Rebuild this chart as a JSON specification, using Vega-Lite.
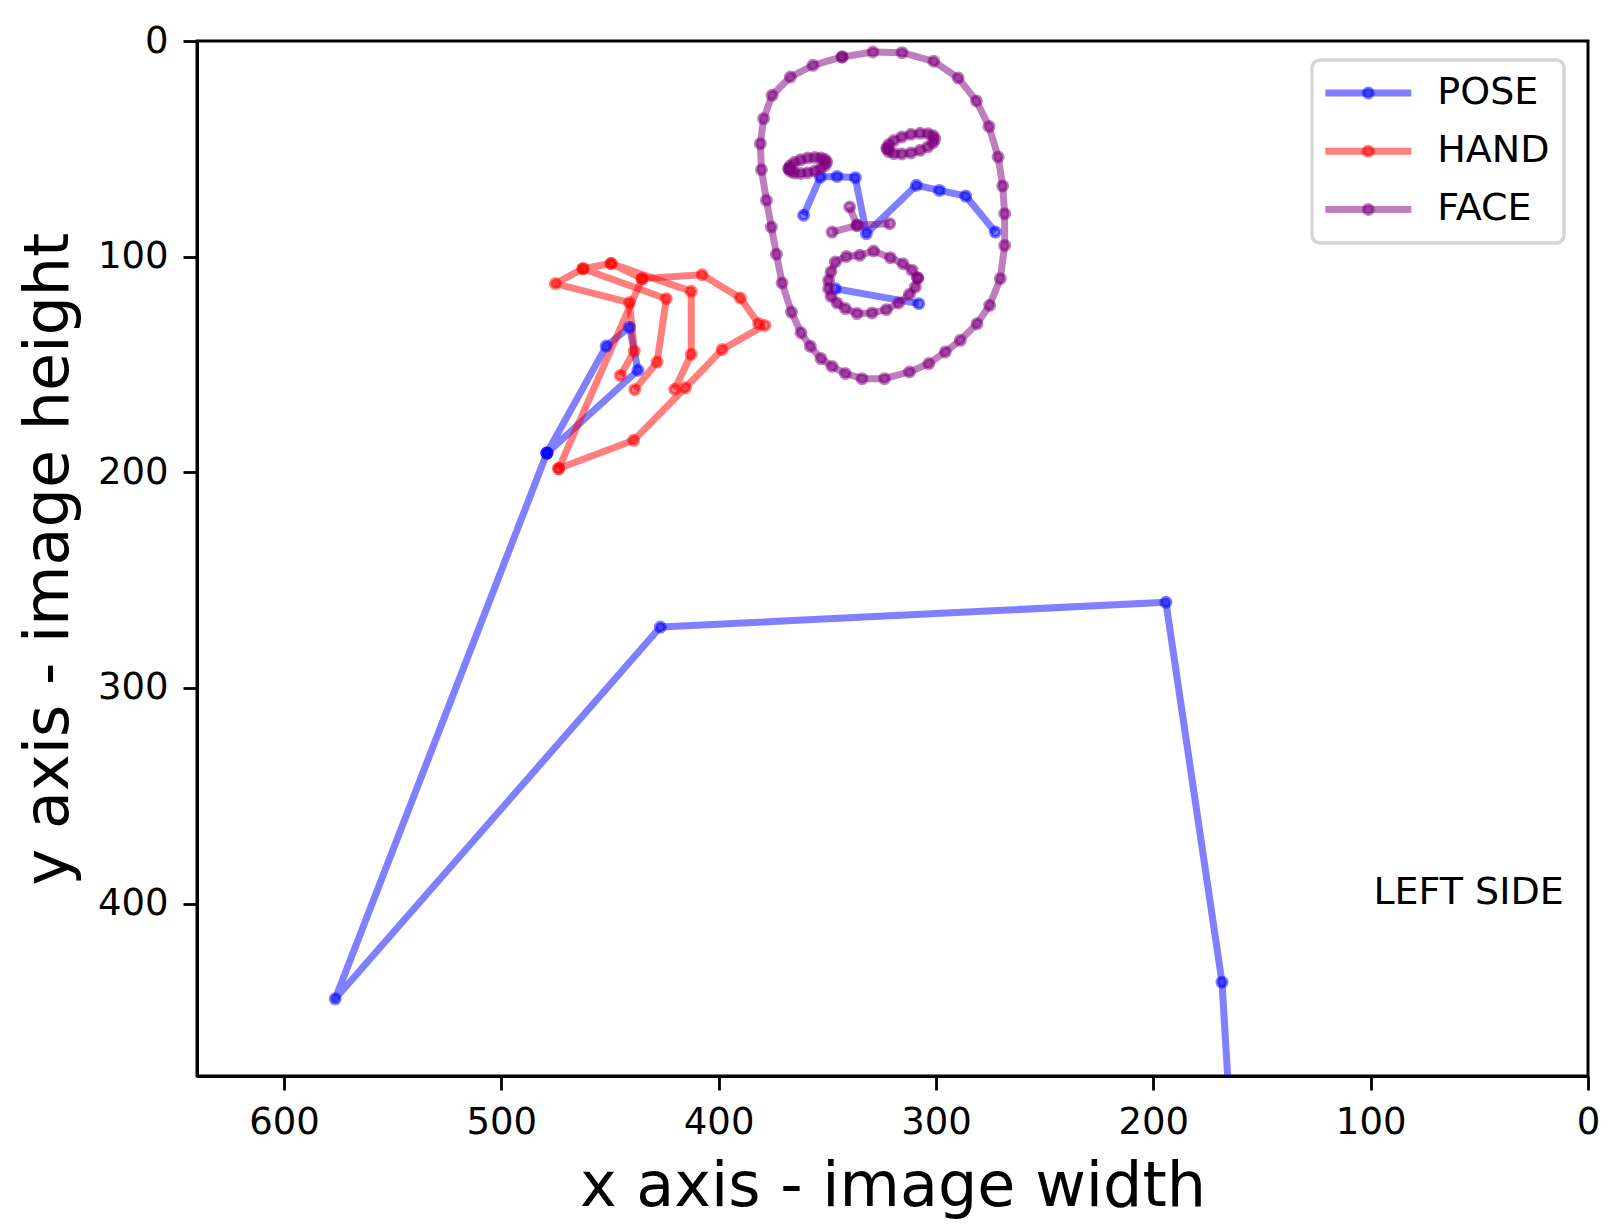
{
  "$schema": "https://vega.github.io/schema/vega-lite/v6.json",
  "width": 1391,
  "height": 1035,
  "autosize": {"type": "none"},
  "padding": {"left": 197, "top": 41, "right": 25, "bottom": 152},
  "background": "white",
  "config": {
    "font": "DejaVu Sans",
    "view": {"stroke": "black", "strokeWidth": 3},
    "axis": {
      "domainColor": "black", "domainWidth": 3, "tickColor": "black", "tickWidth": 2.8, "tickSize": 14,
      "labelColor": "black", "labelFontSize": 37, "titleColor": "black", "titleFontSize": 62,
      "titleFontWeight": "normal", "grid": false, "labelFlush": false, "labelOverlap": false, "labelBound": false
    }
  },
  "datasets": {
    "kp": [
      {"part":"POSE","seg":"pf","i":0,"x":360.9,"y":80.8},
      {"part":"POSE","seg":"pf","i":1,"x":353.2,"y":63.1},
      {"part":"POSE","seg":"pf","i":2,"x":345.5,"y":62.8},
      {"part":"POSE","seg":"pf","i":3,"x":337.1,"y":63.4},
      {"part":"POSE","seg":"pf","i":4,"x":332.0,"y":89.3},
      {"part":"POSE","seg":"pf","i":5,"x":309.0,"y":66.9},
      {"part":"POSE","seg":"pf","i":6,"x":298.4,"y":69.3},
      {"part":"POSE","seg":"pf","i":7,"x":286.3,"y":71.9},
      {"part":"POSE","seg":"pf","i":8,"x":272.7,"y":88.6},
      {"part":"POSE","seg":"pm","i":0,"x":346.3,"y":114.9},
      {"part":"POSE","seg":"pm","i":1,"x":307.9,"y":121.8},
      {"part":"POSE","seg":"pb","i":0,"x":479.0,"y":191.1},
      {"part":"POSE","seg":"pb","i":1,"x":576.4,"y":444.2},
      {"part":"POSE","seg":"pb","i":2,"x":426.8,"y":271.8},
      {"part":"POSE","seg":"pb","i":3,"x":194.2,"y":260.3},
      {"part":"POSE","seg":"pb","i":4,"x":168.4,"y":436.5},
      {"part":"POSE","seg":"pb","i":5,"x":161.0,"y":560.0},
      {"part":"POSE","seg":"ph","i":0,"x":479.0,"y":191.1},
      {"part":"POSE","seg":"ph","i":1,"x":451.7,"y":141.5},
      {"part":"POSE","seg":"ph","i":2,"x":441.0,"y":132.7},
      {"part":"POSE","seg":"ph","i":3,"x":437.1,"y":152.7},
      {"part":"POSE","seg":"ph","i":4,"x":479.0,"y":191.1},
      {"part":"HAND","seg":"ht","i":0,"x":473.6,"y":198.3},
      {"part":"HAND","seg":"ht","i":1,"x":439.1,"y":185.2},
      {"part":"HAND","seg":"ht","i":2,"x":415.3,"y":160.8},
      {"part":"HAND","seg":"ht","i":3,"x":398.4,"y":143.1},
      {"part":"HAND","seg":"ht","i":4,"x":378.8,"y":131.9},
      {"part":"HAND","seg":"hi","i":0,"x":473.6,"y":198.3},
      {"part":"HAND","seg":"hi","i":1,"x":435.2,"y":110.2},
      {"part":"HAND","seg":"hi","i":2,"x":407.6,"y":108.4},
      {"part":"HAND","seg":"hi","i":3,"x":390.0,"y":119.2},
      {"part":"HAND","seg":"hi","i":4,"x":381.6,"y":131.1},
      {"part":"HAND","seg":"hm","i":0,"x":435.2,"y":110.2},
      {"part":"HAND","seg":"hm","i":1,"x":449.5,"y":103.2},
      {"part":"HAND","seg":"hm","i":2,"x":412.6,"y":116.1},
      {"part":"HAND","seg":"hm","i":3,"x":412.6,"y":145.3},
      {"part":"HAND","seg":"hm","i":4,"x":420.2,"y":161.5},
      {"part":"HAND","seg":"hr","i":0,"x":449.5,"y":103.2},
      {"part":"HAND","seg":"hr","i":1,"x":462.4,"y":105.6},
      {"part":"HAND","seg":"hr","i":2,"x":424.1,"y":119.5},
      {"part":"HAND","seg":"hr","i":3,"x":428.3,"y":148.9},
      {"part":"HAND","seg":"hr","i":4,"x":438.6,"y":161.7},
      {"part":"HAND","seg":"hp","i":0,"x":462.4,"y":105.6},
      {"part":"HAND","seg":"hp","i":1,"x":475.1,"y":112.5},
      {"part":"HAND","seg":"hp","i":2,"x":441.0,"y":121.3},
      {"part":"HAND","seg":"hp","i":3,"x":438.8,"y":143.8},
      {"part":"HAND","seg":"hp","i":4,"x":445.2,"y":155.1},
      {"part":"FACE","seg":"fo","i":0,"x":343.2,"y":7.4},
      {"part":"FACE","seg":"fo","i":1,"x":329.0,"y":5.1},
      {"part":"FACE","seg":"fo","i":2,"x":315.6,"y":5.4},
      {"part":"FACE","seg":"fo","i":3,"x":301.0,"y":9.4},
      {"part":"FACE","seg":"fo","i":4,"x":289.8,"y":17.1},
      {"part":"FACE","seg":"fo","i":5,"x":281.4,"y":27.8},
      {"part":"FACE","seg":"fo","i":6,"x":275.6,"y":39.6},
      {"part":"FACE","seg":"fo","i":7,"x":271.4,"y":53.8},
      {"part":"FACE","seg":"fo","i":8,"x":269.3,"y":67.2},
      {"part":"FACE","seg":"fo","i":9,"x":268.4,"y":80.1},
      {"part":"FACE","seg":"fo","i":10,"x":268.4,"y":94.8},
      {"part":"FACE","seg":"fo","i":11,"x":270.4,"y":110.2},
      {"part":"FACE","seg":"fo","i":12,"x":275.3,"y":122.6},
      {"part":"FACE","seg":"fo","i":13,"x":281.1,"y":131.1},
      {"part":"FACE","seg":"fo","i":14,"x":288.8,"y":138.8},
      {"part":"FACE","seg":"fo","i":15,"x":295.7,"y":144.2},
      {"part":"FACE","seg":"fo","i":16,"x":303.3,"y":149.6},
      {"part":"FACE","seg":"fo","i":17,"x":312.2,"y":153.5},
      {"part":"FACE","seg":"fo","i":18,"x":323.7,"y":156.6},
      {"part":"FACE","seg":"fo","i":19,"x":334.0,"y":156.6},
      {"part":"FACE","seg":"fo","i":20,"x":341.7,"y":154.2},
      {"part":"FACE","seg":"fo","i":21,"x":347.8,"y":150.9},
      {"part":"FACE","seg":"fo","i":22,"x":352.9,"y":147.3},
      {"part":"FACE","seg":"fo","i":23,"x":357.8,"y":141.6},
      {"part":"FACE","seg":"fo","i":24,"x":362.1,"y":135.3},
      {"part":"FACE","seg":"fo","i":25,"x":366.5,"y":125.7},
      {"part":"FACE","seg":"fo","i":26,"x":370.8,"y":112.2},
      {"part":"FACE","seg":"fo","i":27,"x":373.4,"y":98.9},
      {"part":"FACE","seg":"fo","i":28,"x":375.7,"y":86.3},
      {"part":"FACE","seg":"fo","i":29,"x":378.0,"y":73.9},
      {"part":"FACE","seg":"fo","i":30,"x":380.3,"y":59.7},
      {"part":"FACE","seg":"fo","i":31,"x":380.8,"y":47.6},
      {"part":"FACE","seg":"fo","i":32,"x":379.3,"y":36.0},
      {"part":"FACE","seg":"fo","i":33,"x":375.4,"y":25.2},
      {"part":"FACE","seg":"fo","i":34,"x":367.0,"y":16.7},
      {"part":"FACE","seg":"fo","i":35,"x":356.6,"y":11.3},
      {"part":"FACE","seg":"fo","i":36,"x":343.2,"y":7.4},
      {"part":"FACE","seg":"fle","i":0,"x":367.7,"y":59.2},
      {"part":"FACE","seg":"fle","i":1,"x":367.0,"y":60.4},
      {"part":"FACE","seg":"fle","i":2,"x":365.2,"y":61.2},
      {"part":"FACE","seg":"fle","i":3,"x":362.3,"y":61.4},
      {"part":"FACE","seg":"fle","i":4,"x":359.0,"y":61.1},
      {"part":"FACE","seg":"fle","i":5,"x":355.7,"y":60.3},
      {"part":"FACE","seg":"fle","i":6,"x":352.9,"y":59.0},
      {"part":"FACE","seg":"fle","i":7,"x":351.0,"y":57.6},
      {"part":"FACE","seg":"fle","i":8,"x":350.3,"y":56.2},
      {"part":"FACE","seg":"fle","i":9,"x":351.0,"y":55.0},
      {"part":"FACE","seg":"fle","i":10,"x":352.9,"y":54.2},
      {"part":"FACE","seg":"fle","i":11,"x":355.7,"y":54.0},
      {"part":"FACE","seg":"fle","i":12,"x":359.0,"y":54.3},
      {"part":"FACE","seg":"fle","i":13,"x":362.3,"y":55.1},
      {"part":"FACE","seg":"fle","i":14,"x":365.2,"y":56.4},
      {"part":"FACE","seg":"fle","i":15,"x":367.0,"y":57.8},
      {"part":"FACE","seg":"fle","i":16,"x":367.7,"y":59.2},
      {"part":"FACE","seg":"fre","i":0,"x":322.5,"y":49.8},
      {"part":"FACE","seg":"fre","i":1,"x":321.7,"y":51.3},
      {"part":"FACE","seg":"fre","i":2,"x":319.3,"y":52.2},
      {"part":"FACE","seg":"fre","i":3,"x":315.7,"y":52.4},
      {"part":"FACE","seg":"fre","i":4,"x":311.5,"y":51.9},
      {"part":"FACE","seg":"fre","i":5,"x":307.3,"y":50.7},
      {"part":"FACE","seg":"fre","i":6,"x":303.7,"y":49.1},
      {"part":"FACE","seg":"fre","i":7,"x":301.3,"y":47.2},
      {"part":"FACE","seg":"fre","i":8,"x":300.5,"y":45.4},
      {"part":"FACE","seg":"fre","i":9,"x":301.3,"y":43.9},
      {"part":"FACE","seg":"fre","i":10,"x":303.7,"y":43.0},
      {"part":"FACE","seg":"fre","i":11,"x":307.3,"y":42.8},
      {"part":"FACE","seg":"fre","i":12,"x":311.5,"y":43.3},
      {"part":"FACE","seg":"fre","i":13,"x":315.7,"y":44.5},
      {"part":"FACE","seg":"fre","i":14,"x":319.3,"y":46.1},
      {"part":"FACE","seg":"fre","i":15,"x":321.7,"y":48.0},
      {"part":"FACE","seg":"fre","i":16,"x":322.5,"y":49.8},
      {"part":"FACE","seg":"fn1","i":0,"x":347.8,"y":88.6},
      {"part":"FACE","seg":"fn1","i":1,"x":336.3,"y":85.5},
      {"part":"FACE","seg":"fn1","i":2,"x":321.3,"y":84.7},
      {"part":"FACE","seg":"fn2","i":0,"x":339.7,"y":77.0},
      {"part":"FACE","seg":"fn2","i":1,"x":336.3,"y":85.5},
      {"part":"FACE","seg":"fl","i":0,"x":308.4,"y":109.9},
      {"part":"FACE","seg":"fl","i":1,"x":309.5,"y":114.1},
      {"part":"FACE","seg":"fl","i":2,"x":312.2,"y":117.5},
      {"part":"FACE","seg":"fl","i":3,"x":317.2,"y":121.5},
      {"part":"FACE","seg":"fl","i":4,"x":322.8,"y":124.6},
      {"part":"FACE","seg":"fl","i":5,"x":329.4,"y":126.1},
      {"part":"FACE","seg":"fl","i":6,"x":336.3,"y":126.4},
      {"part":"FACE","seg":"fl","i":7,"x":341.7,"y":124.1},
      {"part":"FACE","seg":"fl","i":8,"x":345.5,"y":121.5},
      {"part":"FACE","seg":"fl","i":9,"x":348.3,"y":118.4},
      {"part":"FACE","seg":"fl","i":10,"x":349.4,"y":114.8},
      {"part":"FACE","seg":"fl","i":11,"x":349.4,"y":111.0},
      {"part":"FACE","seg":"fl","i":12,"x":348.3,"y":107.1},
      {"part":"FACE","seg":"fl","i":13,"x":346.3,"y":102.5},
      {"part":"FACE","seg":"fl","i":14,"x":341.2,"y":99.9},
      {"part":"FACE","seg":"fl","i":15,"x":335.1,"y":99.4},
      {"part":"FACE","seg":"fl","i":16,"x":328.7,"y":97.4},
      {"part":"FACE","seg":"fl","i":17,"x":321.0,"y":100.5},
      {"part":"FACE","seg":"fl","i":18,"x":315.2,"y":103.3},
      {"part":"FACE","seg":"fl","i":19,"x":311.0,"y":106.3},
      {"part":"FACE","seg":"fl","i":20,"x":308.4,"y":109.9}
    ]
  },
  "layer": [
    {
      "data": {"name": "kp"},
      "mark": {"type": "line", "strokeWidth": 7, "strokeOpacity": 0.5, "strokeJoin": "round", "clip": true},
      "encoding": {
        "x": {
          "field": "x", "type": "quantitative",
          "scale": {"domain": [0, 640], "reverse": true, "nice": false, "zero": false},
          "axis": {"values": [0, 100, 200, 300, 400, 500, 600], "title": "x axis - image width", "labelPadding": 14, "titlePadding": 16}
        },
        "y": {
          "field": "y", "type": "quantitative",
          "scale": {"domain": [0, 480], "reverse": true, "nice": false, "zero": false},
          "axis": {"values": [0, 100, 200, 300, 400], "title": "y axis - image height", "labelPadding": 15, "titlePadding": 17}
        },
        "detail": {"field": "seg"},
        "order": {"field": "i", "type": "quantitative"},
        "stroke": {
          "field": "part", "type": "nominal", "sort": "descending",
          "scale": {"range": ["blue", "red", "purple"]},
          "legend": {
            "orient": "none", "legendX": 1115, "legendY": 19, "title": null,
            "symbolType": "M-10,0H10", "symbolSize": 74, "symbolStrokeWidth": 7, "symbolOpacity": 0.5,
            "symbolFillColor": "transparent", "symbolOffset": 23.3,
            "labelFontSize": 38, "labelColor": "black", "labelOffset": 50, "labelLimit": 400,
            "rowPadding": 20.2, "padding": 14, "strokeColor": "#d6d6d6", "cornerRadius": 8,
            "encode": {"legend": {"update": {"strokeWidth": {"value": 3.5}}}}
          }
        }
      }
    },
    {
      "data": {"name": "kp"},
      "mark": {"type": "point", "filled": true, "size": 90, "fillOpacity": 0.5, "strokeOpacity": 0.5, "strokeWidth": 3.5, "clip": true},
      "encoding": {
        "x": {"field": "x", "type": "quantitative"},
        "y": {"field": "y", "type": "quantitative"},
        "stroke": {"field": "part", "type": "nominal", "sort": "descending", "legend": null},
        "color": {
          "field": "part", "type": "nominal",
          "scale": {"domain": ["POSE", "HAND", "FACE"], "range": ["blue", "red", "purple"]},
          "legend": {
            "orient": "none", "legendX": 1115, "legendY": 19, "title": null,
            "symbolType": "circle", "symbolSize": 90, "symbolStrokeWidth": 3.5, "symbolOffset": 23.3,
            "labelFontSize": 38, "labelOpacity": 0, "labelOffset": 50,
            "rowPadding": 20.2, "padding": 14,
            "encode": {"symbols": {"update": {"stroke": {"scale": "color", "field": "value"}, "fillOpacity": {"value": 0.5}, "strokeOpacity": {"value": 0.5}, "opacity": {"value": 1}}}}
          }
        }
      }
    },
    {
      "data": {"values": [{"label": "LEFT SIDE", "x": 11.2, "y": 400.4}]},
      "mark": {"type": "text", "fontSize": 38, "align": "right", "baseline": "alphabetic", "color": "black"},
      "encoding": {
        "x": {"field": "x", "type": "quantitative"},
        "y": {"field": "y", "type": "quantitative"},
        "text": {"field": "label"}
      }
    }
  ]
}
